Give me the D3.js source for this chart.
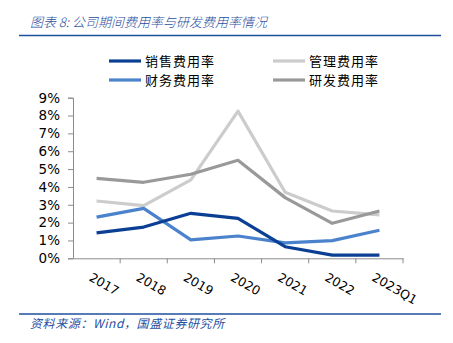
<!DOCTYPE html>
<html><head><meta charset="utf-8">
<script src="https://cdn.jsdelivr.net/npm/d3@7"></script>
<style>body{margin:0;background:#fff}svg{display:block}</style>
</head><body>
<script>
const categories = ["2017","2018","2019","2020","2021","2022","2023Q1"];
const sales = [1.42,1.75,2.52,2.24,0.65,0.18,0.18];
const admin = [3.21,2.95,4.39,8.25,3.70,2.65,2.43];
const finance = [2.31,2.80,1.03,1.25,0.86,0.99,1.57];
const rnd = [4.48,4.26,4.71,5.49,3.40,1.96,2.65];
const yTicks = [0,1,2,3,4,5,6,7,8,9];
const seriesNames = ["销售费用率","管理费用率","财务费用率","研发费用率"];
const seriesColors = ["#0b3f94","#cccccc","#4a83cc","#999999"];
const seriesData = [sales, admin, finance, rnd];

const W=453,H=343;
const svg=d3.select("body").append("svg").attr("width",W).attr("height",H);
const cjk="'Noto Sans CJK SC','Noto Sans',sans-serif";
const blue="#1f4f9f";

svg.append("text").attr("x",30).attr("y",27).attr("font-family",cjk).attr("font-style","italic")
  .attr("font-size",13).attr("font-weight",300).attr("fill",blue).text("图表 8:  公司期间费用率与研发费用率情况");
svg.append("line").attr("x1",19).attr("x2",441).attr("y1",35.5).attr("y2",35.5).attr("stroke",blue).attr("stroke-width",1.5);

const x=d3.scaleBand().domain(categories).range([73,403]);
const y=d3.scaleLinear().domain([0,9]).range([258.3,97.7]);

const axisColor="#8c8c8c";
const gy=svg.append("g").attr("transform","translate(73,0)")
  .call(d3.axisLeft(y).tickValues(yTicks).tickFormat(d=>d+"%").tickSize(5).tickPadding(8));
gy.selectAll("path,line").attr("stroke",axisColor);
gy.selectAll("text").attr("font-family","'DejaVu Sans',sans-serif").attr("font-size",13.5).attr("fill","#000");

const gx=svg.append("g").attr("transform","translate(0,258.3)")
  .call(d3.axisBottom(x).tickValues([]).tickSize(0));
gx.selectAll("path").attr("stroke",axisColor);
const bounds=categories.map(c=>x(c)).concat([403]).slice(1);
gx.selectAll(".tk").data(bounds).enter().append("line")
  .attr("x1",d=>d).attr("x2",d=>d).attr("y1",0).attr("y2",5).attr("stroke",axisColor);
gx.selectAll(".lbl").data(categories).enter().append("text")
  .attr("transform",d=>`translate(${x(d)+x.bandwidth()/2-4},14) rotate(30)`)
  .attr("text-anchor","start").attr("font-family","'DejaVu Sans',sans-serif").attr("font-size",12.5)
  .attr("dy","0.7em").attr("fill","#000").text(d=>d);

const line=d3.line().x((d,i)=>x(categories[i])+x.bandwidth()/2).y(d=>y(d));
[1,3,2,0].forEach(k=>{
  svg.append("path").datum(seriesData[k]).attr("d",line).attr("fill","none")
    .attr("stroke",seriesColors[k]).attr("stroke-width",3.2).attr("stroke-linejoin","round");
});

const legPos=[[109,61],[273,61],[109,80],[273,80]];
seriesNames.forEach((n,k)=>{
  const [lx,ly]=legPos[k];
  svg.append("line").attr("x1",lx).attr("x2",lx+32).attr("y1",ly).attr("y2",ly)
    .attr("stroke",seriesColors[k]).attr("stroke-width",3.2);
  svg.append("text").attr("x",lx+36).attr("y",ly+5).attr("font-family",cjk).attr("font-size",13)
    .attr("letter-spacing",1).attr("fill","#000").text(n);
});

svg.append("line").attr("x1",19).attr("x2",441).attr("y1",314).attr("y2",314).attr("stroke",blue).attr("stroke-width",1.5);
svg.append("text").attr("x",30).attr("y",328).attr("font-family",cjk).attr("font-style","italic")
  .attr("font-size",12).attr("letter-spacing",0.6).attr("fill",blue).text("资料来源：Wind，国盛证券研究所");
</script>
</body></html>
